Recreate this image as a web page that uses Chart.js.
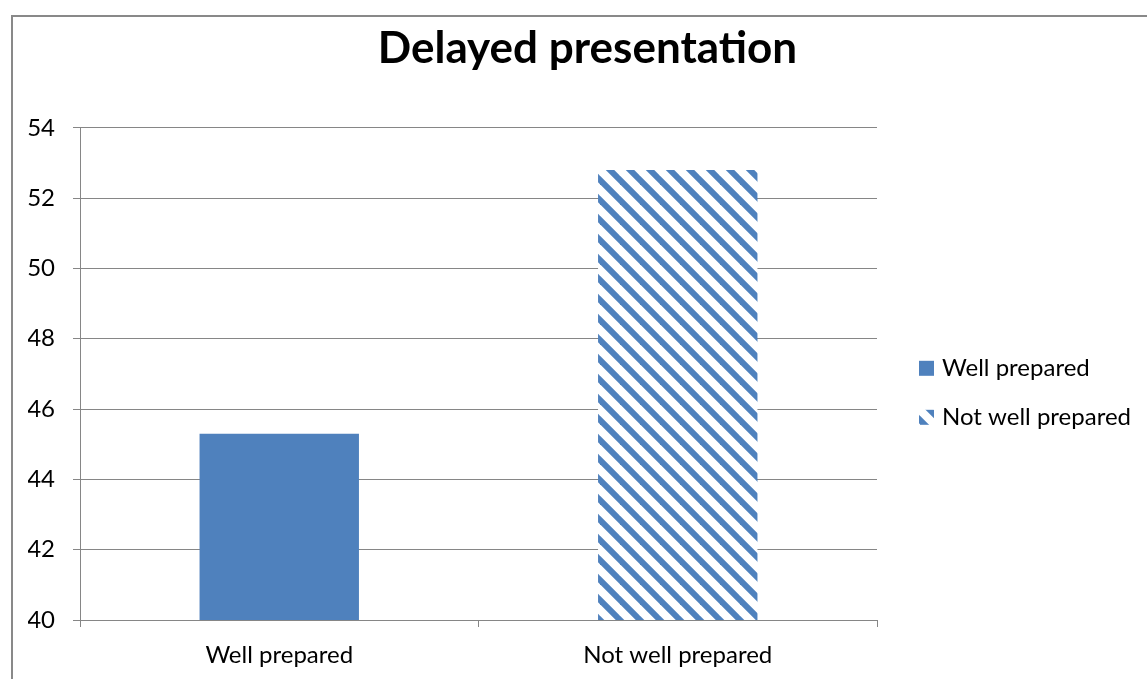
<!DOCTYPE html>
<html><head><meta charset="utf-8">
<script src="https://cdn.jsdelivr.net/npm/chart.js@4.4.0/dist/chart.umd.min.js"></script>
<style>
html,body{margin:0;padding:0;background:#fff;}
#wrap{position:relative;width:1147px;height:679px;overflow:hidden;background:#fff;}
#frame{position:absolute;left:11px;top:15px;width:1300px;height:800px;border-top:2px solid #898989;border-left:2px solid #898989;}
canvas{position:absolute;left:0;top:0;}
</style></head><body>
<div id="wrap"><div id="frame"></div><canvas id="c" width="1147" height="679"></canvas></div>
<script>
// ---- data ----
const categories = ['Well prepared', 'Not well prepared'];
const seriesNames = ['Well prepared', 'Not well prepared'];
const wellPreparedValues = [45.3, null];
const notWellPreparedValues = [null, 52.8];
const yTickValues = [40, 42, 44, 46, 48, 50, 52, 54];
const titleText = 'Delayed presentation';

// ---- styles ----
const BLUE = '#4F81BD';
const GRID = '#868686';
const FONT = 'Lato, "Open Sans", sans-serif';

function makeStripePattern() {
  const size = 20;
  const t = document.createElement('canvas');
  t.width = size; t.height = size;
  const g = t.getContext('2d');
  g.fillStyle = '#fff';
  g.fillRect(0, 0, size, size);
  g.strokeStyle = BLUE;
  g.lineWidth = 6;
  for (let k = -1; k <= 1; k++) {
    g.beginPath();
    g.moveTo(-5, -5 + k * size);
    g.lineTo(size + 5, size + 5 + k * size);
    g.stroke();
  }
  const ctx = document.getElementById('c').getContext('2d');
  return ctx.createPattern(t, 'repeat');
}
const stripes = makeStripePattern();

const sideLegend = {
  id: 'sideLegend',
  afterDraw(chart) {
    const { ctx, chartArea } = chart;
    const x0 = chartArea.right + 42;
    ctx.save();
    chart.data.datasets.forEach((ds, i) => {
      const cy = chartArea.top + 240 + i * 49;
      ctx.fillStyle = ds.backgroundColor;
      ctx.fillRect(x0, cy - 7, 15, 15);
      ctx.fillStyle = '#000';
      ctx.font = '24px ' + FONT;
      ctx.textBaseline = 'middle';
      ctx.textAlign = 'left';
      ctx.fillText(ds.label, x0 + 23, cy);
    });
    ctx.restore();
  }
};

new Chart(document.getElementById('c'), {
  type: 'bar',
  data: {
    labels: categories,
    datasets: [
      { label: seriesNames[0], data: wellPreparedValues, backgroundColor: BLUE, borderWidth: 0 },
      { label: seriesNames[1], data: notWellPreparedValues, backgroundColor: stripes, borderWidth: 0 }
    ]
  },
  options: {
    responsive: false,
    animation: false,
    devicePixelRatio: 1,
    layout: { padding: { left: 28, right: 0, top: 0, bottom: 0 } },
    datasets: { bar: { grouped: false, barPercentage: 0.4, categoryPercentage: 1.0 } },
    plugins: {
      legend: { display: false },
      tooltip: { enabled: false },
      title: {
        display: true,
        text: titleText,
        color: '#000',
        font: { family: FONT, size: 44, weight: 'bold', lineHeight: 1.2 },
        padding: { top: 22, bottom: 53 }
      }
    },
    scales: {
      x: {
        offset: true,
        grid: { display: true, drawOnChartArea: false, drawTicks: true, tickLength: 7, color: GRID, offset: true },
        border: { display: true, color: GRID, width: 1 },
        ticks: { color: '#000', font: { family: FONT, size: 24 }, padding: 14, maxRotation: 0 },
        afterFit: s => { s.height = 59; }
      },
      y: {
        min: 40, max: 54,
        afterBuildTicks: s => { s.ticks = yTickValues.map(v => ({ value: v })); },
        grid: { color: GRID, tickLength: 7, drawTicks: true },
        border: { display: true, color: GRID, width: 1 },
        ticks: { color: '#000', font: { family: FONT, size: 24 }, padding: 18 },
        afterFit: s => { s.width = 52; }
      },
      yR: {
        position: 'right',
        display: true,
        grid: { display: false },
        border: { display: false },
        ticks: { display: false },
        afterFit: s => { s.width = 270; }
      }
    }
  },
  plugins: [sideLegend]
});
</script>
</body></html>
